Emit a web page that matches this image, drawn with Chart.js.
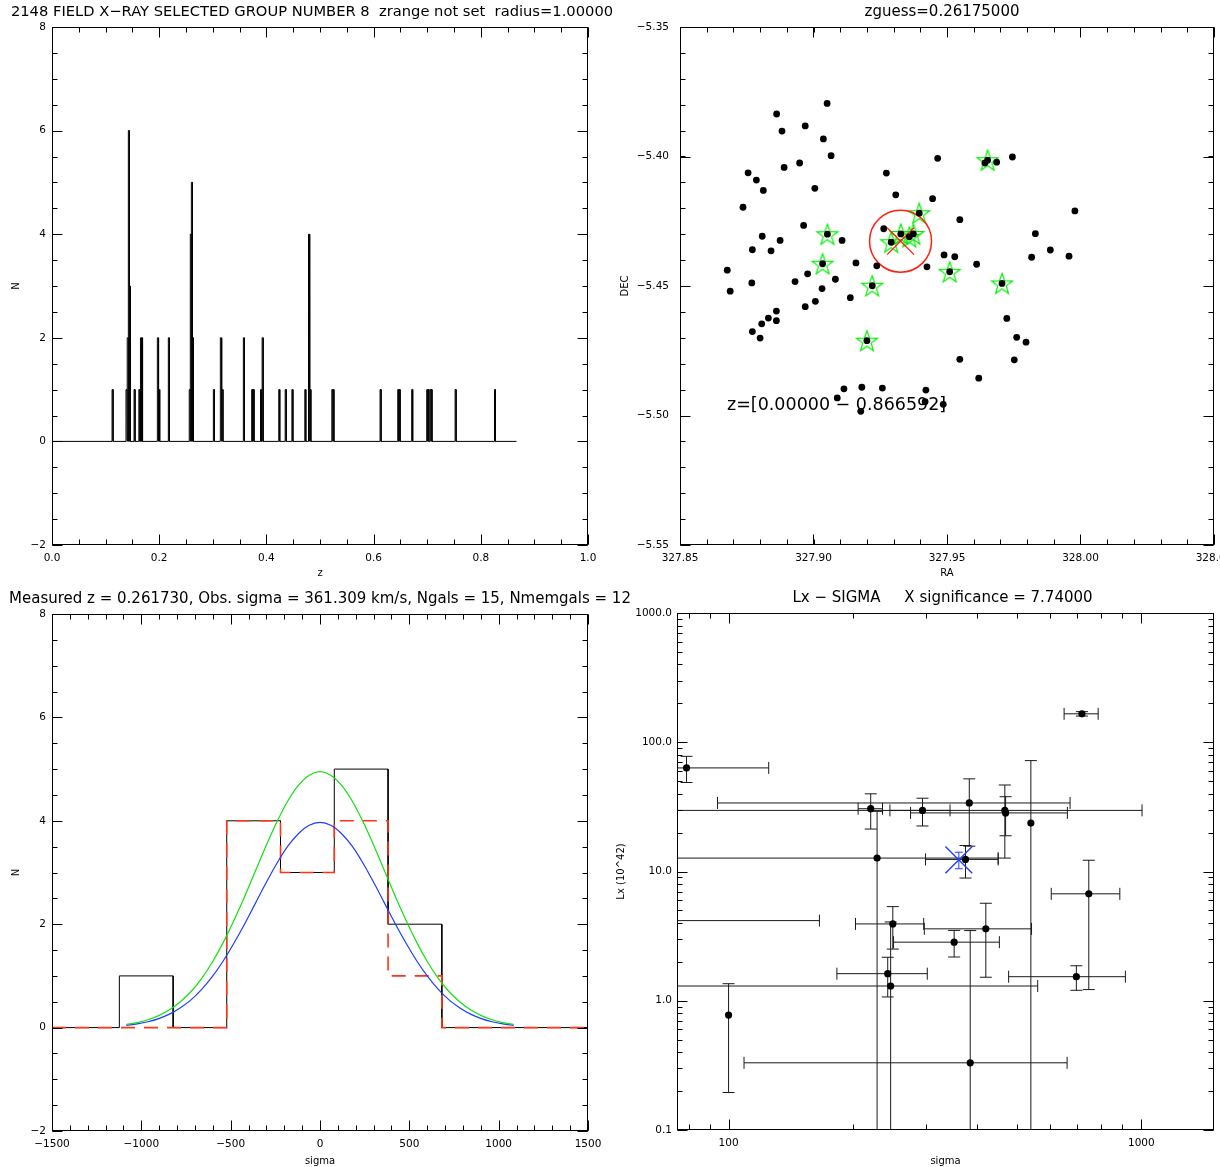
<!DOCTYPE html>
<html>
<head>
<meta charset="utf-8">
<title>Group 8</title>
<script src="https://cdn.jsdelivr.net/npm/chart.js@4.4.1/dist/chart.umd.min.js"></script>
<style>
  html, body { margin: 0; padding: 0; background: #fff; }
  #page { position: relative; width: 1220px; height: 1167px; overflow: hidden; }
  #page canvas { position: absolute; left: 0; top: 0; }
</style>
</head>
<body>
<div id="page">
  <canvas id="zHist" width="1220" height="1167"></canvas>
  <canvas id="sky" width="1220" height="1167"></canvas>
  <canvas id="velHist" width="1220" height="1167"></canvas>
  <canvas id="lxSigma" width="1220" height="1167"></canvas>
</div>
<script>
// redshift histogram of the whole field (top left)
const zBinWidth = 0.0019;
const zBinCenters = [0.1130, 0.1390, 0.1415, 0.1434, 0.1453, 0.1540, 0.1630, 0.1660, 0.1680, 0.1975,
  0.2000, 0.2180, 0.2570, 0.2590, 0.2610, 0.2630, 0.3020, 0.3150, 0.3180, 0.3580,
  0.3735, 0.3760, 0.3900, 0.3930, 0.4240, 0.4360, 0.4485, 0.4726, 0.4795, 0.4820,
  0.5230, 0.5250, 0.6130, 0.6460, 0.6485, 0.6720, 0.7000, 0.7020, 0.7060, 0.7080,
  0.7530, 0.8265];
const zBinCounts = [1, 1, 2, 6, 3, 1, 1, 2, 2, 2,
  1, 2, 1, 4, 5, 2, 1, 2, 1, 2,
  1, 1, 1, 2, 1, 1, 1, 1, 4, 1,
  1, 1, 1, 1, 1, 1, 1, 1, 1, 1,
  1, 1];
const zMax = 0.866592;
const zTicks = [0, 0.2, 0.4, 0.6, 0.8, 1.0];
const nTicks = [-2, 0, 2, 4, 6, 8];

// galaxy positions (top right)
const galRA = [327.9051, 327.8862, 327.8969, 327.8882, 327.9037, 327.9066, 327.9465, 327.8948, 327.8890, 327.8755,
  327.9273, 327.8786, 327.8812, 327.9005, 327.9308, 327.9446, 327.8736, 327.9396, 327.8963, 327.9263,
  327.9052, 327.8808, 327.8875, 327.9107, 327.9327, 327.9291, 327.9374, 327.9359, 327.8771, 327.8841,
  327.9159, 327.9237, 327.9425, 327.9034, 327.8677, 327.8978, 327.9510, 327.8931, 327.8769, 327.9082,
  327.9220, 327.8688, 327.9032, 327.9138, 327.9007, 327.8969, 327.8861, 327.8831, 327.8861, 327.8806,
  327.8771, 327.8800, 327.9200, 327.9114, 327.9181, 327.9258, 327.9421, 327.9089, 327.9418, 327.9177,
  327.9486, 327.9652, 327.9642, 327.9686, 327.9745, 327.9548, 327.9979, 327.9831, 327.9489, 327.9529,
  327.9817, 327.9887, 327.9957, 327.9611, 327.9706, 327.9724, 327.9761, 327.9796, 327.9548, 327.9752,
  327.9619];
const galDec = [-5.3795, -5.3836, -5.3882, -5.3902, -5.3932, -5.3997, -5.4007, -5.4025, -5.4042, -5.4063,
  -5.4064, -5.4091, -5.4131, -5.4123, -5.4148, -5.4163, -5.4196, -5.4219, -5.4266, -5.4279,
  -5.4300, -5.4308, -5.4324, -5.4324, -5.4299, -5.4331, -5.4299, -5.4310, -5.4360, -5.4364,
  -5.4411, -5.4422, -5.4426, -5.4414, -5.4439, -5.4453, -5.4445, -5.4483, -5.4488, -5.4474,
  -5.4499, -5.4520, -5.4510, -5.4545, -5.4559, -5.4580, -5.4597, -5.4624, -5.4634, -5.4646,
  -5.4676, -5.4701, -5.4711, -5.4897, -5.4891, -5.4894, -5.4902, -5.4932, -5.4947, -5.4984,
  -5.4957, -5.4014, -5.4025, -5.4022, -5.4002, -5.4244, -5.4210, -5.4298, -5.4380, -5.4387,
  -5.4389, -5.4361, -5.4385, -5.4416, -5.4490, -5.4625, -5.4698, -5.4717, -5.4783, -5.4785,
  -5.4856];
// group members
const memRA = [327.9396, 327.9052, 327.9327, 327.9291, 327.9374, 327.9359, 327.9034, 327.9510, 327.9220, 327.9200, 327.9652, 327.9706];
const memDec = [-5.4219, -5.4300, -5.4299, -5.4331, -5.4299, -5.4310, -5.4414, -5.4445, -5.4499, -5.4711, -5.4014, -5.4490];
const groupRA = [327.9326];
const groupDec = [-5.4327];
const raTicks = [327.85, 327.90, 327.95, 328.00, 328.05];
const decTicks = [-5.55, -5.50, -5.45, -5.40, -5.35];

// velocity histogram (bottom left)
const velEdges = [-1123, -822, -522, -221, 80, 381, 682];
const velCountsAll = [1, 0, 4, 3, 5, 2];
const velCountsMem = [0, 0, 4, 3, 4, 1];
const fitVel = [-1084, -1023, -963, -903, -843, -783, -722, -662, -602, -542, -482, -421, -361, -301, -241, -181, -120, -60,
  0, 60, 120, 181, 241, 301, 361, 421, 482, 542, 602, 662, 722, 783, 843, 903, 963, 1023, 1084];
const fitGreen = [0.060, 0.097, 0.152, 0.232, 0.344, 0.496, 0.698, 0.954, 1.269, 1.644, 2.072, 2.541, 3.033, 3.522, 3.981, 4.379, 4.688, 4.883,
  4.950, 4.883, 4.688, 4.379, 3.981, 3.522, 3.033, 2.541, 2.072, 1.644, 1.269, 0.954, 0.698, 0.496, 0.344, 0.232, 0.152, 0.097, 0.060];
const fitBlue = [0.044, 0.072, 0.113, 0.174, 0.261, 0.380, 0.537, 0.740, 0.990, 1.289, 1.632, 2.010, 2.408, 2.805, 3.179, 3.504, 3.755, 3.915,
  3.970, 3.915, 3.755, 3.504, 3.179, 2.805, 2.408, 2.010, 1.632, 1.289, 0.990, 0.740, 0.537, 0.380, 0.261, 0.174, 0.113, 0.072, 0.044];
const velTicks = [-1500, -1000, -500, 0, 500, 1000, 1500];

// Lx - sigma of the comparison groups (bottom right)
const grpSigma = [100.0, 60, 250, 352, 420, 243, 247, 229, 540, 385, 696, 746, 718, 79.1, 221, 295, 383, 467, 469, 375];
const grpSigmaErr = [0, 106, 47, 101, 122, 60, 314, 221, 0, 276, 219, 141, 68, 46, 15, 49, 289, 537, 193, 75];
const grpLx = [0.775, 4.17, 3.93, 2.84, 3.60, 1.62, 1.30, 12.7, 23.7, 0.331, 1.535, 6.72, 166, 63.3, 30.6, 29.7, 33.9, 29.7, 28.4, 12.4];
const grpLxErr = [0.58, 0, 1.42, 0.66, 2.08, 0.55, 2.77, 16.5, 48.4, 3.16, 0.33, 5.5, 6.5, 14.5, 9.3, 7.2, 18.2, 17, 9.5, 3.5];
const thisSigma = [361.3];
const thisLx = [12.3];
const thisLxErr = [1.8];
const sigTicks = [100, 1000];
const lxTicks = [0.1, 1, 10, 100, 1000];

const W = 1220, H = 1167;
const FONT = '"DejaVu Sans", sans-serif';
Chart.defaults.font.family = FONT;
Chart.defaults.font.size = 10.5;
Chart.defaults.color = '#000';

// plot boxes in page pixels
const boxZ = { L: 52, T: 27, R: 588, B: 545 };
const boxSky = { L: 680, T: 27, R: 1214, B: 545 };
const boxVel = { L: 52, T: 614, R: 588, B: 1131 };
const boxLx = { L: 677, T: 613, R: 1214, B: 1130 };

function layoutFor(box, yW, xH) {
  return { autoPadding: false, padding: { left: box.L - yW, top: box.T, right: W - box.R, bottom: H - box.B - xH } };
}

const fmtFixed = d => v => (v < 0 ? '\u2212' : '') + Math.abs(v).toFixed(d);

function xAxis(o) {
  return {
    type: o.type || 'linear', min: o.min, max: o.max,
    grid: { display: false, drawTicks: false }, border: { display: false },
    ticks: { padding: 7, autoSkip: false, maxRotation: 0, callback: o.fmt },
    afterBuildTicks: s => { s.ticks = o.ticks.map(v => ({ value: v })); },
    title: { display: true, text: o.title, font: { size: 10 }, padding: { top: 0, bottom: o.titlePad } },
    afterFit: s => { s.height = o.size; s.paddingLeft = 0; s.paddingRight = 0; }
  };
}
function yAxis(o) {
  return {
    type: o.type || 'linear', min: o.min, max: o.max,
    grid: { display: false, drawTicks: false }, border: { display: false },
    ticks: { padding: o.tickPad || 6, autoSkip: false, callback: o.fmt },
    afterBuildTicks: s => { s.ticks = o.ticks.map(v => ({ value: v })); },
    title: { display: true, text: o.title, font: { size: 10 }, padding: { top: o.titlePad, bottom: 0 } },
    afterFit: s => { s.width = o.size; s.paddingTop = 0; s.paddingBottom = 0; }
  };
}

function steps(min, max, step) {
  const out = [];
  const n = Math.round((max - min) / step);
  for (let i = 0; i <= n; i++) out.push(min + i * step);
  return out;
}
function logSteps(min, max) {
  const out = [];
  for (let e = Math.floor(Math.log10(min)); e <= Math.ceil(Math.log10(max)); e++) {
    for (let m = 1; m < 10; m++) {
      const v = m * Math.pow(10, e);
      if (v >= min && v <= max) out.push(v);
    }
  }
  return out;
}

// closed box with inward ticks on all four sides, plus the panel title
const idlFrame = {
  id: 'idlFrame',
  afterDraw(chart, args, o) {
    const { ctx, chartArea: a } = chart;
    const x = chart.scales.x, y = chart.scales.y;
    const L = Math.round(a.left) + 0.5, R = Math.round(a.right) - 0.5;
    const T = Math.round(a.top) + 0.5, B = Math.round(a.bottom) - 0.5;
    ctx.save();
    ctx.strokeStyle = '#000';
    ctx.lineWidth = 1;
    ctx.strokeRect(L, T, R - L, B - T);
    ctx.beginPath();
    const xt = (v, len) => {
      const p = Math.round(x.getPixelForValue(v)) + 0.5;
      ctx.moveTo(p, B); ctx.lineTo(p, B - len);
      ctx.moveTo(p, T); ctx.lineTo(p, T + len);
    };
    const yt = (v, len) => {
      const p = Math.round(y.getPixelForValue(v)) + 0.5;
      ctx.moveTo(L, p); ctx.lineTo(L + len, p);
      ctx.moveTo(R, p); ctx.lineTo(R - len, p);
    };
    o.xMinor.forEach(v => xt(v, 5));
    o.xMajor.forEach(v => xt(v, 10));
    o.yMinor.forEach(v => yt(v, 5));
    o.yMajor.forEach(v => yt(v, 10));
    ctx.stroke();
    ctx.fillStyle = '#000';
    ctx.font = (o.titleSize || 15) + 'px ' + FONT;
    ctx.textAlign = 'center';
    ctx.textBaseline = 'middle';
    ctx.fillText(o.title, (a.left + a.right) / 2 + (o.titleShift || 0), a.top - 15);
    ctx.restore();
  }
};

function baseOptions(box, yW, xH) {
  return {
    responsive: false, animation: false, devicePixelRatio: 1, events: [],
    layout: layoutFor(box, yW, xH),
    plugins: { legend: { display: false }, tooltip: { enabled: false } }
  };
}

// histogram of thin spikes drawn as one outline
function spikePath(centers, counts, width, x0, x1) {
  const pts = [{ x: x0, y: 0 }];
  centers.forEach((c, i) => {
    const lo = c - width / 2, hi = c + width / 2;
    pts.push({ x: lo, y: 0 }, { x: lo, y: counts[i] }, { x: hi, y: counts[i] }, { x: hi, y: 0 });
  });
  pts.push({ x: x1, y: 0 });
  return pts;
}
// IDL psym=10 style step outline over bin edges
function stepPath(edges, counts, x0, x1) {
  const pts = [{ x: x0, y: 0 }];
  let prev = 0;
  counts.forEach((n, i) => {
    pts.push({ x: edges[i], y: prev }, { x: edges[i], y: n });
    prev = n;
  });
  const last = edges[edges.length - 1];
  pts.push({ x: last, y: prev }, { x: last, y: 0 }, { x: x1, y: 0 });
  return pts;
}
const zip = (xs, ys) => xs.map((v, i) => ({ x: v, y: ys[i] }));

// ---------- top left ----------
{
  const opts = baseOptions(boxZ, 52, 38);
  opts.scales = {
    x: xAxis({ min: 0, max: 1, ticks: zTicks, fmt: fmtFixed(1), title: 'z', titlePad: 4, size: 38 }),
    y: yAxis({ min: -2, max: 8, ticks: nTicks, fmt: fmtFixed(0), title: 'N', titlePad: 10, size: 52 })
  };
  opts.plugins.idlFrame = {
    title: '2148 FIELD X\u2212RAY SELECTED GROUP NUMBER 8  zrange not set  radius=1.00000',
    titleSize: 14.7, titleShift: -8,
    xMajor: zTicks, xMinor: steps(0, 1, 0.05), yMajor: nTicks, yMinor: steps(-2, 8, 0.5)
  };
  new Chart(document.getElementById('zHist'), {
    type: 'scatter',
    data: { datasets: [{
      data: spikePath(zBinCenters, zBinCounts, zBinWidth, 0, zMax),
      showLine: true, borderColor: '#000', borderWidth: 1, pointRadius: 0
    }] },
    options: opts,
    plugins: [idlFrame]
  });
}

// ---------- top right ----------
function starImage(r, color) {
  const c = document.createElement('canvas');
  c.width = c.height = 2 * r + 4;
  const g = c.getContext('2d');
  g.translate(c.width / 2, c.height / 2 + 1);
  g.beginPath();
  for (let i = 0; i < 10; i++) {
    const rad = i % 2 ? r * 0.4 : r;
    const ang = -Math.PI / 2 + i * Math.PI / 5;
    g.lineTo(rad * Math.cos(ang), rad * Math.sin(ang));
  }
  g.closePath();
  g.strokeStyle = color;
  g.lineWidth = 1.2;
  g.stroke();
  return c;
}
const skyNote = {
  id: 'skyNote',
  afterDatasetsDraw(chart, args, o) {
    const { ctx, scales: { x, y } } = chart;
    ctx.save();
    ctx.font = '17.5px ' + FONT;
    ctx.fillStyle = '#000';
    ctx.textAlign = 'left';
    ctx.textBaseline = 'middle';
    ctx.fillText(o.text, x.getPixelForValue(o.ra), y.getPixelForValue(o.dec));
    ctx.restore();
  }
};
{
  const opts = baseOptions(boxSky, 70, 38);
  opts.scales = {
    x: xAxis({ min: 327.85, max: 328.05, ticks: raTicks, fmt: fmtFixed(2), title: 'RA', titlePad: 4, size: 38 }),
    y: yAxis({ min: -5.55, max: -5.35, ticks: decTicks, fmt: fmtFixed(2), title: 'DEC', titlePad: 9, size: 70, tickPad: 11 })
  };
  opts.plugins.idlFrame = {
    title: 'zguess=0.26175000', titleShift: -5,
    xMajor: raTicks, xMinor: steps(327.85, 328.05, 0.01), yMajor: decTicks, yMinor: steps(-5.55, -5.35, 0.01)
  };
  opts.plugins.skyNote = { text: 'z=[0.00000 \u2212 0.866592]', ra: 327.8676, dec: -5.4963 };
  new Chart(document.getElementById('sky'), {
    type: 'scatter',
    data: { datasets: [
      { data: zip(galRA, galDec), pointRadius: 3.4, backgroundColor: '#000', borderWidth: 0 },
      { data: zip(groupRA, groupDec), pointStyle: 'crossRot', pointRadius: 19, borderColor: '#ff2010', borderWidth: 1.3 },
      { data: zip(groupRA, groupDec), pointStyle: 'circle', pointRadius: 31, borderColor: '#ff2010', borderWidth: 1.5, backgroundColor: 'rgba(0,0,0,0)' },
      { data: zip(memRA, memDec), pointStyle: starImage(11, '#00ee00') }
    ] },
    options: opts,
    plugins: [idlFrame, skyNote]
  });
}

// ---------- bottom left ----------
{
  const opts = baseOptions(boxVel, 52, 36);
  opts.scales = {
    x: xAxis({ min: -1500, max: 1500, ticks: velTicks, fmt: fmtFixed(0), title: 'sigma', titlePad: 0, size: 36 }),
    y: yAxis({ min: -2, max: 8, ticks: nTicks, fmt: fmtFixed(0), title: 'N', titlePad: 10, size: 52 })
  };
  opts.plugins.idlFrame = {
    title: 'Measured z = 0.261730, Obs. sigma = 361.309 km/s, Ngals = 15, Nmemgals = 12',
    xMajor: velTicks, xMinor: steps(-1500, 1500, 100), yMajor: nTicks, yMinor: steps(-2, 8, 0.5)
  };
  new Chart(document.getElementById('velHist'), {
    type: 'scatter',
    data: { datasets: [
      { data: zip(fitVel, fitGreen), showLine: true, borderColor: '#12e012', borderWidth: 1.2, pointRadius: 0, cubicInterpolationMode: 'monotone' },
      { data: zip(fitVel, fitBlue), showLine: true, borderColor: '#1e3cff', borderWidth: 1.2, pointRadius: 0, cubicInterpolationMode: 'monotone' },
      { data: stepPath(velEdges, velCountsMem, -1500, 1500), showLine: true, borderColor: '#ff3515', borderWidth: 1.6, borderDash: [14, 9], pointRadius: 0 },
      { data: stepPath(velEdges, velCountsAll, -1500, 1500), showLine: true, borderColor: '#000', borderWidth: 1, pointRadius: 0 }
    ] },
    options: opts,
    plugins: [idlFrame]
  });
}

// ---------- bottom right ----------
const errorBars = {
  id: 'errorBars',
  beforeDatasetsDraw(chart) {
    const { ctx, chartArea: a, scales: { x, y } } = chart;
    const draw = (xs, ys, dxs, dys, color, cap) => {
      ctx.strokeStyle = color;
      ctx.beginPath();
      xs.forEach((sx, i) => {
        const sy = ys[i], dx = dxs[i], dy = dys[i];
        const px = x.getPixelForValue(sx), py = y.getPixelForValue(sy);
        if (dx > 0) {
          const hi = x.getPixelForValue(sx + dx);
          const lo = sx - dx > 0 ? x.getPixelForValue(sx - dx) : a.left - 20;
          ctx.moveTo(lo, py); ctx.lineTo(hi, py);
          ctx.moveTo(hi, py - cap); ctx.lineTo(hi, py + cap);
          if (sx - dx > 0) { ctx.moveTo(lo, py - cap); ctx.lineTo(lo, py + cap); }
        }
        if (dy > 0) {
          const hi = y.getPixelForValue(sy + dy);
          const lo = sy - dy > 0 ? y.getPixelForValue(sy - dy) : a.bottom + 20;
          ctx.moveTo(px, lo); ctx.lineTo(px, hi);
          ctx.moveTo(px - cap, hi); ctx.lineTo(px + cap, hi);
          if (sy - dy > 0) { ctx.moveTo(px - cap, lo); ctx.lineTo(px + cap, lo); }
        }
      });
      ctx.stroke();
    };
    ctx.save();
    ctx.beginPath();
    ctx.rect(a.left, a.top, a.right - a.left, a.bottom - a.top);
    ctx.clip();
    ctx.lineWidth = 1;
    draw(grpSigma, grpLx, grpSigmaErr, grpLxErr, '#1a1a1a', 6);
    draw(thisSigma, thisLx, [0], thisLxErr, '#2040ff', 4);
    ctx.restore();
  }
};
{
  const opts = baseOptions(boxLx, 67, 37);
  opts.scales = {
    x: xAxis({ type: 'logarithmic', min: 75, max: 1500, ticks: sigTicks, fmt: v => String(v), title: 'sigma', titlePad: 0, size: 37 }),
    y: yAxis({ type: 'logarithmic', min: 0.1, max: 1000, ticks: lxTicks, fmt: fmtFixed(1), title: 'Lx (10^42)', titlePad: 5, size: 67, tickPad: 5 })
  };
  opts.plugins.idlFrame = {
    title: 'Lx \u2212 SIGMA     X significance = 7.74000', titleShift: -3,
    xMajor: sigTicks, xMinor: logSteps(75, 1500), yMajor: lxTicks, yMinor: logSteps(0.1, 1000)
  };
  new Chart(document.getElementById('lxSigma'), {
    type: 'scatter',
    data: { datasets: [
      { data: zip(thisSigma, thisLx), pointStyle: 'crossRot', pointRadius: 19, borderColor: '#2040ff', borderWidth: 1.4 },
      { data: zip(grpSigma, grpLx), pointRadius: 3.6, backgroundColor: '#000', borderWidth: 0 }
    ] },
    options: opts,
    plugins: [idlFrame, errorBars]
  });
}
</script>
</body>
</html>
